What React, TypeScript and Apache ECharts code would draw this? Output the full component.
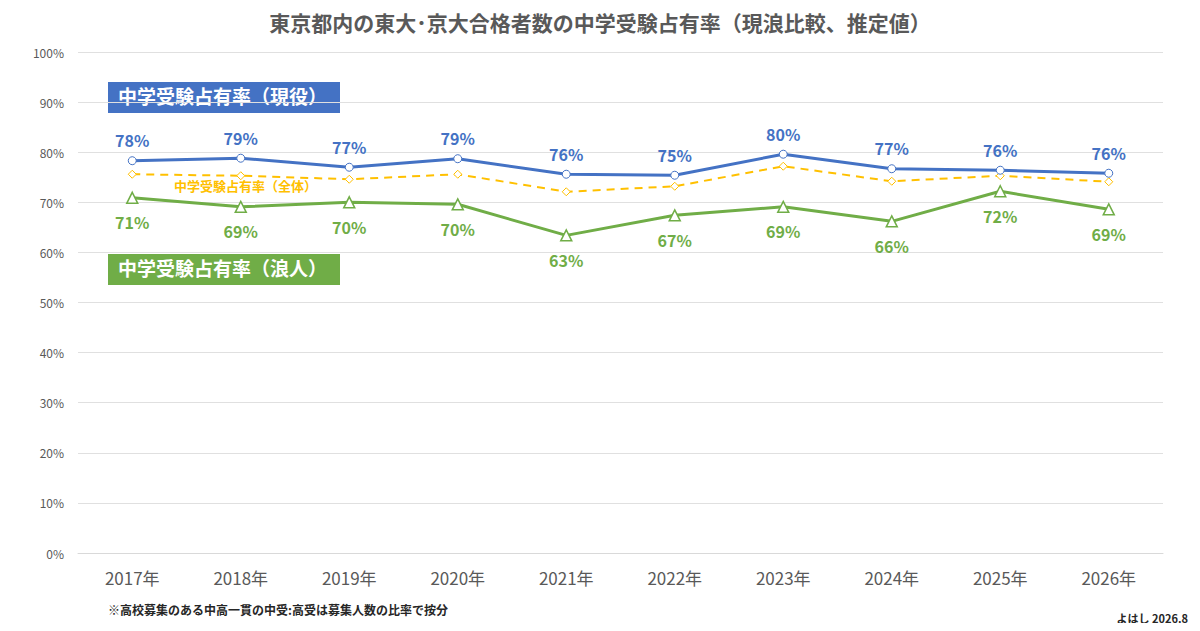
import { useEffect, useRef } from "react";
import * as echarts from "echarts";

const years = ["2017年", "2018年", "2019年", "2020年", "2021年", "2022年", "2023年", "2024年", "2025年", "2026年"];
const genekiRate = [78.3, 78.8, 77.0, 78.7, 75.6, 75.4, 79.6, 76.7, 76.4, 75.8];
const zentaiRate = [75.6, 75.3, 74.6, 75.6, 72.1, 73.2, 77.2, 74.2, 75.3, 74.1];
const roninRate = [70.9, 69.1, 70.0, 69.6, 63.4, 67.4, 69.1, 66.2, 72.2, 68.6];

const FONT = "'Noto Sans CJK JP', 'Noto Sans', sans-serif";
const BLUE = "#4472c4";
const GREEN = "#70ad47";
const YELLOW = "#ffc000";

export default function App() {
    const ref = useRef<HTMLDivElement | null>(null);

    useEffect(() => {
        if (!ref.current) return;
        const chart = echarts.init(ref.current, undefined, { renderer: "svg" });
        chart.setOption({
            animation: false,
            backgroundColor: "#fff",
            textStyle: { fontFamily: FONT },
            title: {
                text: "東京都内の東大･京大合格者数の中学受験占有率（現浪比較、推定値）",
                left: "center",
                top: 6,
                textStyle: { fontSize: 21, fontWeight: "bold", color: "#595959", fontFamily: FONT },
            },
            grid: { left: 78, right: 37, top: 52, bottom: 78 },
            xAxis: {
                type: "category",
                data: years,
                axisLine: { lineStyle: { color: "#d9d9d9" } },
                axisTick: { show: false },
                axisLabel: { color: "#595959", fontSize: 17, margin: 16, fontFamily: FONT },
            },
            yAxis: {
                type: "value",
                min: 0,
                max: 100,
                interval: 10,
                axisLine: { show: false },
                axisTick: { show: false },
                axisLabel: { color: "#595959", fontSize: 12, formatter: "{value}%", margin: 14 },
                splitLine: { lineStyle: { color: "#e0e0e0" } },
            },
            series: [
                {
                    name: "中学受験占有率（現役）",
                    type: "line",
                    data: genekiRate,
                    symbol: "circle",
                    symbolSize: 8,
                    lineStyle: { color: BLUE, width: 3 },
                    itemStyle: { color: "#fff", borderColor: BLUE, borderWidth: 1 },
                    label: {
                        show: true,
                        position: "top",
                        distance: 8,
                        color: BLUE,
                        fontSize: 16,
                        fontWeight: "bold",
                        formatter: (p: any) => Math.round(p.value) + "%",
                    },
                    z: 3,
                },
                {
                    name: "中学受験占有率（全体）",
                    type: "line",
                    data: zentaiRate,
                    symbol: "diamond",
                    symbolSize: 8,
                    lineStyle: { color: YELLOW, width: 2, type: [8, 6] },
                    itemStyle: { color: "#fff", borderColor: YELLOW, borderWidth: 1 },
                    z: 2,
                },
                {
                    name: "中学受験占有率（浪人）",
                    type: "line",
                    data: roninRate,
                    symbol: "triangle",
                    symbolSize: 11,
                    lineStyle: { color: GREEN, width: 3 },
                    itemStyle: { color: "#fff", borderColor: GREEN, borderWidth: 1.5 },
                    label: {
                        show: true,
                        position: "bottom",
                        distance: 10,
                        color: GREEN,
                        fontSize: 16,
                        fontWeight: "bold",
                        formatter: (p: any) => Math.round(p.value) + "%",
                    },
                    z: 3,
                },
            ],
            graphic: [
                { type: "rect", left: 108, top: 82, shape: { width: 232, height: 31 }, style: { fill: BLUE } },
                {
                    type: "text", left: 118, top: 86,
                    style: { text: "中学受験占有率（現役）", fill: "#fff", fontSize: 19, fontWeight: "bold", fontFamily: FONT },
                },
                { type: "rect", left: 108, top: 254, shape: { width: 232, height: 31 }, style: { fill: GREEN } },
                {
                    type: "text", left: 118, top: 258,
                    style: { text: "中学受験占有率（浪人）", fill: "#fff", fontSize: 19, fontWeight: "bold", fontFamily: FONT },
                },
                {
                    type: "text", left: 174, top: 179,
                    style: { text: "中学受験占有率（全体）", fill: YELLOW, fontSize: 13, fontWeight: "bold", fontFamily: FONT },
                },
                {
                    type: "text", left: 108, top: 603,
                    style: { text: "※高校募集のある中高一貫の中受:高受は募集人数の比率で按分", fill: "#262626", fontSize: 12, fontWeight: "bold", fontFamily: FONT },
                },
                {
                    type: "text", right: 12, top: 612,
                    style: { text: "よはし 2026.8", fill: "#262626", fontSize: 11, fontWeight: "bold", fontFamily: FONT },
                },
            ],
        });
        return () => chart.dispose();
    }, []);

    return <div ref={ref} style={{ width: 1200, height: 631, margin: -8 }} />;
}
